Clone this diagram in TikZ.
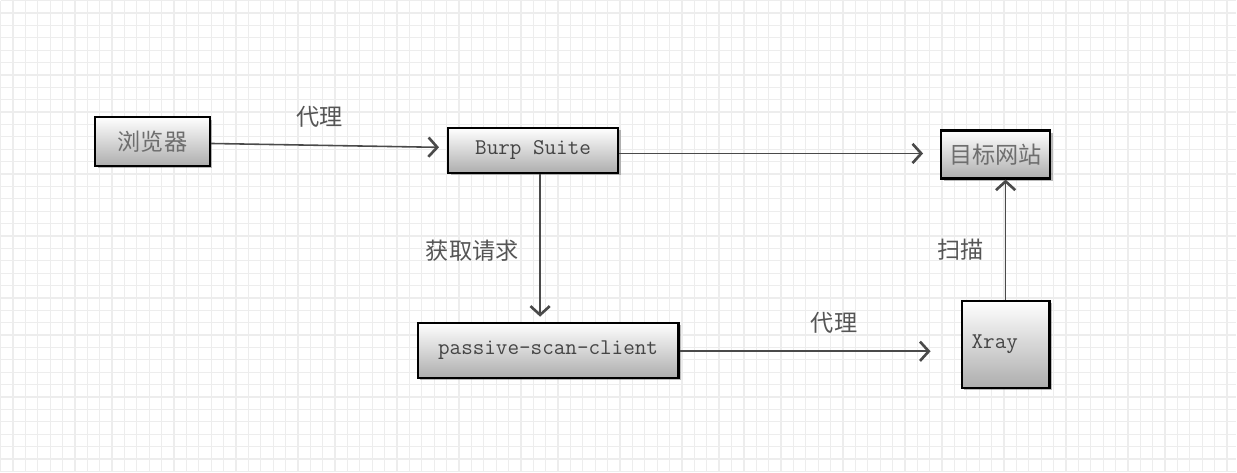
\documentclass[tikz,border=0pt]{standalone}
\usepackage{fontspec}
\newfontfamily\cjk{Noto Sans CJK SC}
\usetikzlibrary{positioning, arrows.meta, shadows}
\definecolor{boxtext}{HTML}{6E6E6E}
\definecolor{entext}{HTML}{454545}
\definecolor{labeltext}{HTML}{555555}
\definecolor{linecol}{HTML}{4A4A4A}
\tikzstyle{box} = [rectangle, draw=black, line width=1.3pt, top color=white, bottom color=black!32, text=boxtext, text centered, drop shadow={shadow xshift=0.05cm, shadow yshift=-0.05cm, opacity=0.45, fill=black!60}]
\tikzstyle{cn} = [font=\cjk\fontsize{13.2}{15}\selectfont]
\tikzstyle{en} = [font=\ttfamily\fontsize{12.8}{15}\selectfont, text=entext]
\tikzstyle{edgelabel} = [cn, text=labeltext, inner sep=1pt]
\tikzstyle{arrow} = [draw=linecol, line width=0.9pt, -{Straight Barb[length=5pt, width=11pt, line width=1.5pt]}]

\begin{document}
\begin{tikzpicture}[node distance=2cm]

% background
\fill [white] (0,0) rectangle (24.74,-9.44);
\draw [black!7, line width=0.7pt, step=0.248cm] (0,-9.44) grid (24.74,0);
\useasboundingbox (0,0) rectangle (24.74,-9.44);

% Nodes
\node (browser) [box, cn, minimum width=2.30cm, minimum height=0.98cm] at (3.04,-2.82) {浏览器};
\node (burp) [box, en, minimum width=3.40cm, minimum height=0.90cm, right of=browser, xshift=5.62cm, yshift=-0.18cm] {Burp Suite};
\node (target) [box, cn, minimum width=2.18cm, minimum height=0.96cm, right of=burp, xshift=7.26cm, yshift=-0.08cm] {目标网站};
\node (psc) [box, en, minimum width=5.22cm, minimum height=1.10cm, below of=burp, xshift=0.30cm, yshift=-2cm] {passive-scan-client};
\node (xray) [box, en, minimum height=1.74cm, text width=1.36cm, inner xsep=0.2cm, align=left, below of=target, xshift=0.20cm, yshift=-1.80cm] {Xray};

% Arrows
\draw [arrow, shorten >=0.16cm] ([yshift=-0.04cm]browser.east) -- node (proxy1) [edgelabel, above=0.3cm, pos=0.46] {代理} ([yshift=0.06cm]burp.west);
\draw [arrow, shorten >=0.34cm] ([yshift=-0.06cm]burp.east) -- ([yshift=-0.06cm]burp.east -| target.west);
\draw [arrow, shorten >=0.1cm] ([xshift=-0.16cm]psc.north |- burp.south) -- node (fetch) [edgelabel, left=0.38cm, pos=0.52] {获取请求} ([xshift=-0.16cm]psc.north);
\draw [arrow, shorten >=0.6cm] ([yshift=-0.02cm]psc.east) -- node (proxy2) [edgelabel, above=0.3cm, pos=0.55] {代理} ([yshift=-0.02cm]psc.east -| xray.west);
\draw [arrow] (xray.north) -- node (scan) [edgelabel, left=0.38cm, pos=0.42] {扫描} (xray.north |- target.south);

\end{tikzpicture}
\end{document}
